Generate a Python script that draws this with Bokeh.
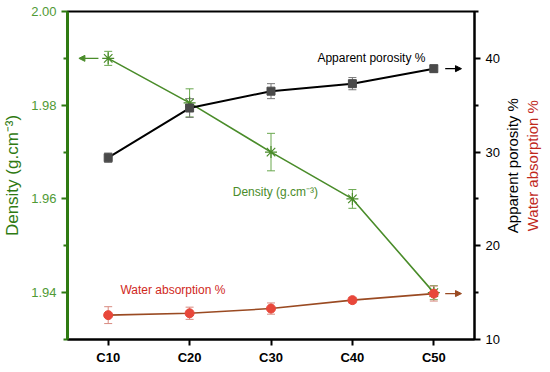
import math
from bokeh.plotting import figure
from bokeh.layouts import row
from bokeh.core.properties import value
from bokeh.models import (Range1d, LinearAxis, FixedTicker, Whisker, ColumnDataSource,
                          Label, Arrow, NormalHead, TeeHead)
from bokeh.embed import file_html
from bokeh.resources import INLINE

categories = ["C10", "C20", "C30", "C40", "C50"]
density = [1.990, 1.9805, 1.970, 1.960, 1.940]
density_err = [0.0015, 0.003, 0.004, 0.002, 0.0015]
porosity = [29.4, 34.7, 36.5, 37.3, 38.9]
porosity_err = [0.5, 1.0, 0.8, 0.65, 0.35]
water = [12.6, 12.8, 13.3, 14.2, 14.9]
water_err = [0.9, 0.65, 0.6, 0.3, 0.8]

left_ticks = [1.94, 1.96, 1.98, 2.00]
left_minor = [1.93, 1.95, 1.97, 1.99]
right_ticks = [10, 20, 30, 40]
right_minor = [15, 25, 35, 45]
right_titles = ["Apparent porosity %", "Water absorption %"]

GREEN_AX = "#2f7a12"
GREEN = "#4a8c2a"
GREEN_TXT = "#4f9a35"
RED = "#e8473a"
BROWN = "#9a4a22"
DARK = "#4a4a4a"
FONT = "Liberation Sans"

xs = list(range(1, len(categories) + 1))

p = figure(frame_width=407, frame_height=328, output_backend="svg", toolbar_location=None,
           x_range=Range1d(0.5, 5.5), y_range=Range1d(1.93, 2.00),
           min_border_left=60, min_border_right=30, min_border_top=11, min_border_bottom=23)
p.extra_y_ranges = {"right": Range1d(10, 45)}
p.xgrid.visible = False
p.ygrid.visible = False
p.outline_line_color = "black"
p.outline_line_width = 2
p.background_fill_color = "white"
p.border_fill_color = "white"

# x axis
xa = p.xaxis[0]
xa.ticker = FixedTicker(ticks=xs)
xa.major_label_overrides = {x: c for x, c in zip(xs, categories)}
xa.major_label_text_font = FONT
xa.major_label_text_font_style = "bold"
xa.major_label_text_font_size = "13px"
xa.major_label_text_color = "black"
xa.major_label_standoff = 4
xa.axis_line_width = 2
xa.axis_line_color = "black"
xa.major_tick_line_width = 2
xa.major_tick_out = 6
xa.major_tick_in = 0
xa.minor_tick_line_color = None

# left axis
ya = p.yaxis[0]
ya.ticker = FixedTicker(ticks=left_ticks, minor_ticks=left_minor)
ya.major_label_overrides = {t: f"{t:.2f}" for t in left_ticks}
ya.axis_label = "Density (g.cm\u207b\u00b3)"
ya.axis_label_text_color = GREEN_AX
ya.axis_label_text_font = FONT
ya.axis_label_text_font_style = "normal"
ya.axis_label_text_font_size = "17px"
ya.axis_label_standoff = 6
ya.major_label_text_color = GREEN_TXT
ya.major_label_text_font = FONT
ya.major_label_text_font_size = "13px"
ya.axis_line_color = GREEN_AX
ya.axis_line_width = 3
ya.major_tick_line_color = GREEN_AX
ya.major_tick_line_width = 2
ya.major_tick_out = 6
ya.major_tick_in = 0
ya.minor_tick_line_color = GREEN_AX
ya.minor_tick_line_width = 2
ya.minor_tick_out = 4
ya.minor_tick_in = 0

# right axis
ra = LinearAxis(y_range_name="right",
                ticker=FixedTicker(ticks=right_ticks, minor_ticks=right_minor))
ra.major_label_text_font = FONT
ra.major_label_text_font_size = "13px"
ra.major_label_text_color = "black"
ra.axis_line_width = 2
ra.major_tick_line_width = 2
ra.major_tick_out = 6
ra.major_tick_in = 0
ra.minor_tick_line_width = 2
ra.minor_tick_out = 4
ra.minor_tick_in = 0
p.add_layout(ra, "right")

src = ColumnDataSource(dict(
    x=xs, density=density,
    d_lo=[v - e for v, e in zip(density, density_err)],
    d_hi=[v + e for v, e in zip(density, density_err)],
    porosity=porosity,
    p_lo=[v - e for v, e in zip(porosity, porosity_err)],
    p_hi=[v + e for v, e in zip(porosity, porosity_err)],
    water=water,
    w_lo=[v - e for v, e in zip(water, water_err)],
    w_hi=[v + e for v, e in zip(water, water_err)],
))

# density series
p.line("x", "density", source=src, line_color=GREEN, line_width=1.6)
p.add_layout(Whisker(source=src, base="x", lower="d_lo", upper="d_hi",
                     line_color="#6aa84f", line_width=1,
                     upper_head=TeeHead(size=8, line_color="#6aa84f"),
                     lower_head=TeeHead(size=8, line_color="#6aa84f")))
p.scatter("x", "density", source=src, marker="asterisk", size=12,
          line_color=GREEN, line_width=1.2)

# porosity series
p.line("x", "porosity", source=src, y_range_name="right", line_color="black", line_width=2)
p.add_layout(Whisker(source=src, base="x", lower="p_lo", upper="p_hi", y_range_name="right",
                     line_color="#777777", line_width=1,
                     upper_head=TeeHead(size=8, line_color="#777777"),
                     lower_head=TeeHead(size=8, line_color="#777777")))
p.scatter("x", "porosity", source=src, y_range_name="right", marker="square", size=8,
          fill_color=DARK, line_color=DARK)

# water series
p.line("x", "water", source=src, y_range_name="right", line_color=BROWN, line_width=1.6)
p.add_layout(Whisker(source=src, base="x", lower="w_lo", upper="w_hi", y_range_name="right",
                     line_color="#d88a80", line_width=1,
                     upper_head=TeeHead(size=8, line_color="#d88a80"),
                     lower_head=TeeHead(size=8, line_color="#d88a80")))
p.scatter("x", "water", source=src, y_range_name="right", marker="circle", size=9,
          fill_color=RED, line_color=RED)

# arrows
p.add_layout(Arrow(x_start=xs[0] - 0.12, y_start=density[0], x_end=xs[0] - 0.36, y_end=density[0],
                   line_color=GREEN, line_width=1.2,
                   end=NormalHead(size=6, fill_color=GREEN, line_color=GREEN)))
p.add_layout(Arrow(x_start=xs[-1] + 0.14, y_start=porosity[-1], x_end=xs[-1] + 0.34, y_end=porosity[-1],
                   y_range_name="right", line_color="black", line_width=1.2,
                   end=NormalHead(size=6, fill_color="black", line_color="black")))
p.add_layout(Arrow(x_start=xs[-1] + 0.14, y_start=water[-1], x_end=xs[-1] + 0.34, y_end=water[-1],
                   y_range_name="right", line_color=BROWN, line_width=1.2,
                   end=NormalHead(size=6, fill_color=BROWN, line_color=BROWN)))

# text labels inside plot
p.add_layout(Label(x=3.57, y=40.0, y_range_name="right", text="Apparent porosity %",
                   text_font=FONT, text_font_size="12px", text_color="black",
                   text_baseline="middle"))
p.add_layout(Label(x=2.53, y=1.9615, text="Density (g.cm\u207b\u00b3)",
                   text_font=FONT, text_font_size="12px", text_color=GREEN,
                   text_baseline="middle"))
p.add_layout(Label(x=1.15, y=1.9406, text="Water absorption %",
                   text_font=FONT, text_font_size="12px", text_color="#d0281c",
                   text_baseline="middle"))

# narrow side panel carrying the two right-hand titles (read bottom to top)
q = figure(frame_width=40, frame_height=328, output_backend="svg", toolbar_location=None,
           x_range=Range1d(0, 40), y_range=Range1d(1.93, 2.00),
           min_border_left=0, min_border_right=0, min_border_top=11, min_border_bottom=23)
q.axis.visible = False
q.xgrid.visible = False
q.ygrid.visible = False
q.outline_line_color = None
q.background_fill_color = "white"
q.border_fill_color = "white"
q.text(x=[8, 28], y=[1.9671, 1.9671], text=right_titles, angle=math.pi / 2,
       text_font=value(FONT), text_font_size="15px",
       text_color=["black", "#c0281c"], text_align="center", text_baseline="middle")

layout = row(p, q, spacing=0)
open("out.html", "w").write(file_html(layout, INLINE))
